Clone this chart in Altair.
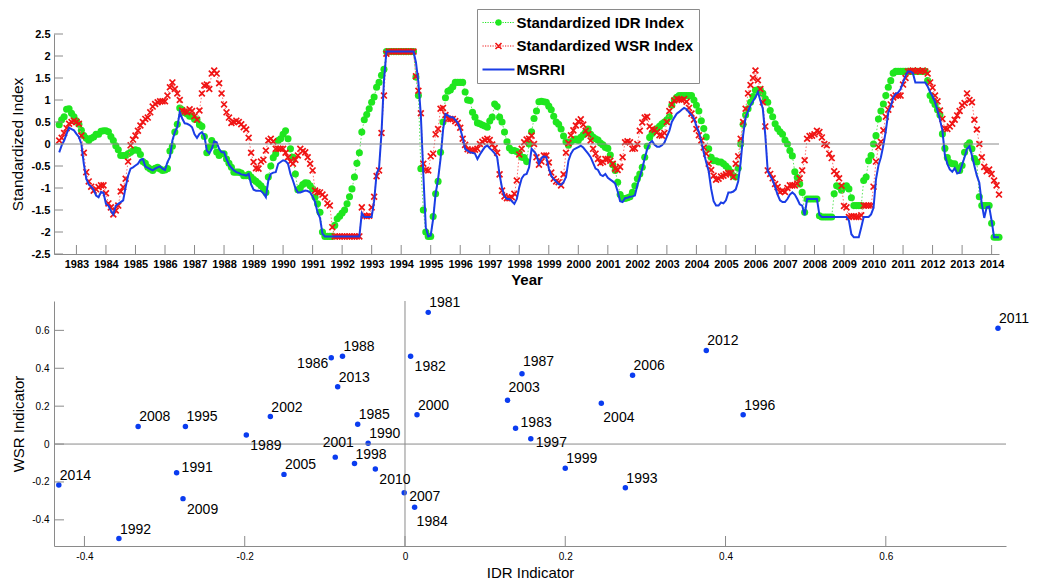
import math
import altair as alt
import pandas as pd

# ---------------- data: top panel (monthly readings, mid-1982 .. early 2014) ----------------
START_YEAR = 1982 + 5 / 12
STEP = 1 / 12

idr_index = [
    0.44, 0.55, 0.62, 0.79, 0.80, 0.70, 0.62, 0.53, 0.45, 0.31, 0.19, 0.13,
    0.08, 0.13, 0.16, 0.22, 0.22, 0.29, 0.30, 0.30, 0.28, 0.17, 0.08, -0.04,
    -0.13, -0.26, -0.26, -0.26, -0.22, -0.19, -0.15, -0.13, -0.15, -0.24, -0.40, -0.44,
    -0.53, -0.57, -0.60, -0.55, -0.53, -0.57, -0.60, -0.59, -0.56, -0.16, -0.05, 0.27,
    0.45, 0.82, 0.78, 0.71, 0.68, 0.63, 0.63, 0.56, 0.55, 0.44, 0.40, 0.17,
    -0.20, -0.07, 0.08, -0.03, -0.18, -0.26, -0.22, -0.22, -0.34, -0.44, -0.53, -0.64,
    -0.64, -0.64, -0.66, -0.72, -0.72, -0.69, -0.75, -0.81, -0.85, -0.90, -0.95, -1.02,
    -1.10, -0.75, -0.50, -0.31, -0.22, 0.08, 0.12, 0.22, 0.30, 0.12, -0.11, -0.30,
    -0.68, -1.04, -1.00, -0.92, -0.88, -0.89, -0.95, -1.02, -1.21, -1.36, -1.55, -2.00,
    -2.10, -2.10, -2.10, -2.10, -1.85, -1.70, -1.64, -1.57, -1.50, -1.36, -1.20, -1.02,
    -0.75, -0.44, -0.20, 0.27, 0.55, 0.67, 0.80, 0.95, 1.07, 1.29, 1.40, 1.56,
    1.70, 2.10, 2.10, 2.10, 2.10, 2.10, 2.10, 2.10, 2.10, 2.10, 2.10, 2.10,
    2.10, 1.52, 1.10, -0.56, -1.50, -2.00, -2.10, -2.10, -1.65, -1.13, -0.85, -0.19,
    0.50, 1.05, 1.20, 1.23, 1.30, 1.40, 1.40, 1.40, 1.40, 1.18, 1.00, 0.99,
    0.72, 0.61, 0.48, 0.46, 0.43, 0.41, 0.38, 0.52, 0.61, 0.91, 0.85, 0.61,
    0.50, 0.27, 0.05, -0.09, -0.15, -0.15, -0.17, -0.21, -0.30, -0.31, -0.40, 0.00,
    0.28, 0.58, 0.75, 0.96, 0.97, 0.96, 0.95, 0.86, 0.78, 0.63, 0.50, 0.45,
    0.34, 0.18, 0.05, -0.03, 0.05, 0.09, 0.11, 0.08, 0.15, 0.21, 0.28, 0.34,
    0.22, 0.16, 0.12, 0.09, 0.02, -0.02, -0.08, -0.10, -0.25, -0.47, -0.60, -0.87,
    -1.15, -1.24, -1.24, -1.22, -1.20, -1.10, -0.95, -0.79, -0.68, -0.53, -0.30, -0.05,
    0.15, 0.24, 0.30, 0.35, 0.40, 0.46, 0.50, 0.55, 0.62, 0.88, 1.00, 1.06,
    1.10, 1.10, 1.10, 1.10, 1.10, 1.10, 1.00, 0.88, 0.75, 0.53, 0.35, 0.16,
    -0.11, -0.30, -0.38, -0.38, -0.41, -0.41, -0.45, -0.50, -0.56, -0.64, -0.72, -0.75,
    -0.55, 0.00, 0.45, 0.66, 0.80, 0.95, 1.08, 1.22, 1.23, 1.23, 1.15, 1.03,
    0.95, 0.76, 0.62, 0.46, 0.35, 0.28, 0.22, 0.09, 0.00, -0.15, -0.27, -0.63,
    -0.76, -0.91, -1.10, -1.55, -1.25, -1.25, -1.25, -1.25, -1.25, -1.63, -1.66, -1.66,
    -1.66, -1.66, -1.66, -1.13, -0.95, -0.97, -1.05, -0.98, -0.95, -1.02, -1.22, -1.40,
    -1.40, -1.40, -1.40, -0.83, -0.75, -0.38, -0.26, 0.00, 0.19, 0.57, 0.75, 0.91,
    1.10, 1.29, 1.44, 1.61, 1.65, 1.65, 1.65, 1.65, 1.65, 1.65, 1.65, 1.65,
    1.65, 1.65, 1.65, 1.65, 1.65, 1.44, 1.10, 0.99, 0.90, 0.78, 0.66, 0.23,
    -0.10, -0.31, -0.42, -0.45, -0.45, -0.54, -0.60, -0.49, -0.19, -0.03, 0.03, -0.11,
    -0.33, -0.41, -1.20, -1.40, -1.40, -1.40, -1.40, -1.80, -2.12, -2.12, -2.12,
]

wsr_index = [
    0.08, 0.14, 0.25, 0.36, 0.46, 0.50, 0.53, 0.50, 0.46, 0.19, -0.20, -0.64,
    -0.85, -0.97, -1.06, -1.03, -0.98, -0.94, -0.94, -1.12, -1.35, -1.44, -1.60, -1.51,
    -1.40, -1.08, -0.98, -0.79, -0.40, -0.03, 0.10, 0.19, 0.30, 0.42, 0.50, 0.57,
    0.60, 0.72, 0.85, 0.91, 0.95, 0.97, 0.97, 0.97, 1.10, 1.29, 1.40, 1.25,
    1.15, 1.00, 0.76, 0.74, 0.72, 0.79, 0.75, 0.63, 0.55, 0.76, 1.15, 1.33,
    1.35, 1.25, 1.60, 1.67, 1.60, 1.38, 1.15, 0.90, 0.72, 0.60, 0.48, 0.50,
    0.53, 0.50, 0.45, 0.38, 0.33, 0.14, -0.20, -0.41, -0.55, -0.56, -0.40, -0.36,
    -0.15, 0.08, 0.12, 0.06, -0.11, -0.11, -0.11, -0.11, -0.20, -0.30, -0.40, -0.45,
    -0.36, -0.26, -0.11, -0.16, -0.19, -0.30, -0.45, -0.60, -1.06, -1.09, -1.10, -1.15,
    -1.21, -1.35, -1.40, -1.89, -2.10, -2.10, -2.10, -2.10, -2.10, -2.10, -2.10, -2.10,
    -2.10, -2.10, -2.10, -1.44, -1.63, -1.64, -1.63, -1.44, -1.20, -0.73, -0.60, 0.25,
    1.10, 2.05, 2.10, 2.10, 2.10, 2.10, 2.10, 2.10, 2.10, 2.10, 2.10, 2.10,
    2.10, 1.54, 1.21, 0.70, -0.45, -0.59, -0.60, -0.28, -0.22, 0.22, 0.34, 0.80,
    0.82, 0.66, 0.57, 0.57, 0.57, 0.52, 0.48, 0.37, 0.12, -0.02, -0.12, -0.15,
    -0.15, -0.13, -0.11, 0.00, 0.05, 0.09, 0.12, 0.09, -0.01, -0.09, -0.20, -0.69,
    -1.06, -1.19, -1.23, -1.23, -1.21, -1.13, -0.83, -0.24, -0.11, 0.04, 0.10, 0.12,
    0.19, 0.00, -0.30, -0.47, -0.40, -0.26, -0.26, -0.42, -0.65, -0.79, -0.85, -0.87,
    -0.94, -0.69, -0.20, 0.02, 0.20, 0.31, 0.42, 0.51, 0.56, 0.44, 0.30, 0.22,
    0.08, -0.11, -0.22, -0.34, -0.43, -0.41, -0.34, -0.34, -0.38, -0.45, -0.56, -0.59,
    -0.52, -0.30, 0.04, 0.06, 0.04, -0.11, -0.10, 0.00, 0.30, 0.49, 0.60, 0.62,
    0.40, 0.34, 0.32, 0.27, 0.20, 0.19, 0.25, 0.50, 0.75, 0.90, 0.99, 1.03,
    1.01, 1.00, 1.02, 0.96, 0.82, 0.69, 0.55, 0.34, 0.20, 0.08, -0.08, -0.22,
    -0.45, -0.59, -0.72, -0.81, -0.79, -0.74, -0.72, -0.69, -0.66, -0.66, -0.75, -0.45,
    -0.28, 0.12, 0.50, 0.80, 1.15, 1.34, 1.50, 1.67, 1.45, 1.25, 0.95, 0.40,
    -0.60, -0.68, -0.78, -0.91, -0.98, -1.09, -1.06, -1.09, -1.00, -0.94, -0.94, -0.94,
    -0.90, -0.78, -0.60, -0.37, 0.12, 0.18, 0.19, 0.22, 0.30, 0.27, 0.15, 0.00,
    -0.03, -0.22, -0.32, -0.62, -0.68, -0.78, -0.95, -1.41, -1.44, -1.66, -1.64, -1.64,
    -1.66, -1.66, -1.62, -1.40, -1.40, -1.40, -1.40, -0.97, -0.40, -0.07, 0.05, 0.31,
    0.62, 0.78, 0.90, 1.06, 1.10, 1.10, 1.10, 1.35, 1.50, 1.65, 1.66, 1.67,
    1.65, 1.67, 1.65, 1.67, 1.65, 1.60, 1.40, 1.28, 1.10, 0.97, 0.76, 0.57,
    0.35, 0.34, 0.40, 0.46, 0.55, 0.65, 0.75, 0.88, 0.93, 1.15, 1.00, 0.95,
    0.55, 0.33, 0.00, -0.30, -0.52, -0.62, -0.58, -0.68, -0.83, -0.94, -1.15,
]

msrri = [
    -0.19, -0.03, 0.08, 0.23, 0.37, 0.34, 0.31, 0.23, 0.16, 0.00, -0.45, -0.79,
    -0.92, -0.97, -1.04, -1.17, -1.21, -1.09, -1.11, -1.36, -1.40, -1.51, -1.60, -1.40,
    -1.36, -1.32, -1.28, -0.98, -0.72, -0.56, -0.53, -0.49, -0.45, -0.36, -0.34, -0.51,
    -0.54, -0.57, -0.60, -0.56, -0.53, -0.51, -0.56, -0.59, -0.41, -0.30, 0.08, 0.27,
    0.38, 0.72, 0.58, 0.47, 0.46, 0.43, 0.38, 0.22, 0.14, 0.23, 0.27, 0.19,
    -0.15, -0.21, -0.11, 0.06, 0.04, -0.11, -0.19, -0.19, -0.34, -0.47, -0.54, -0.60,
    -0.64, -0.66, -0.69, -0.70, -0.72, -0.68, -0.92, -1.04, -1.06, -1.06, -1.07, -1.12,
    -1.21, -0.83, -0.68, -0.65, -0.64, -0.45, -0.41, -0.37, -0.39, -0.45, -0.68, -0.83,
    -1.00, -1.10, -1.10, -1.08, -1.06, -1.07, -1.10, -1.19, -1.32, -1.55, -1.68, -2.04,
    -2.10, -2.10, -2.10, -2.10, -2.10, -2.10, -2.10, -2.10, -2.10, -2.10, -2.10, -2.10,
    -2.10, -2.10, -2.10, -1.57, -1.66, -1.66, -1.66, -1.66, -1.30, -0.68, -0.55, 0.25,
    1.44, 2.10, 2.10, 2.10, 2.10, 2.10, 2.10, 2.10, 2.10, 2.10, 2.10, 2.10,
    2.10, 1.86, 1.40, 0.65, -0.68, -1.89, -2.10, -2.08, -1.70, -1.13, -0.80, -0.34,
    0.31, 0.68, 0.65, 0.61, 0.61, 0.55, 0.48, 0.34, 0.15, -0.11, -0.15, -0.19,
    -0.20, -0.22, -0.34, -0.24, -0.15, -0.07, -0.03, -0.10, -0.15, -0.21, -0.30, -0.70,
    -1.00, -1.19, -1.25, -1.25, -1.30, -1.36, -1.25, -0.98, -0.78, -0.70, -0.68, -0.53,
    -0.11, -0.17, -0.25, -0.45, -0.32, -0.28, -0.30, -0.55, -0.72, -0.80, -0.85, -0.91,
    -0.93, -0.87, -0.75, -0.38, -0.22, -0.13, -0.10, -0.07, -0.04, -0.08, -0.15, -0.22,
    -0.30, -0.43, -0.56, -0.59, -0.70, -0.73, -0.68, -0.77, -0.81, -0.85, -0.90, -1.08,
    -1.30, -1.32, -1.23, -1.22, -1.20, -1.19, -1.17, -0.94, -0.75, -0.56, -0.32, -0.12,
    0.02, 0.07, -0.02, -0.06, -0.06, -0.03, 0.03, 0.17, 0.30, 0.50, 0.60, 0.69,
    0.73, 0.78, 0.82, 0.79, 0.72, 0.66, 0.58, 0.41, 0.27, 0.05, -0.20, -0.42,
    -0.62, -1.02, -1.30, -1.40, -1.40, -1.33, -1.35, -1.28, -1.10, -1.10, -1.08, -1.03,
    -0.85, -0.41, 0.20, 0.61, 0.74, 0.88, 0.97, 1.06, 1.18, 0.99, 0.80, 0.20,
    -0.62, -0.72, -0.82, -0.98, -1.15, -1.28, -1.32, -1.32, -1.25, -1.15, -1.10, -1.15,
    -1.25, -1.37, -1.40, -1.62, -1.25, -1.25, -1.25, -1.25, -1.25, -1.61, -1.66, -1.66,
    -1.66, -1.66, -1.66, -1.66, -1.66, -1.66, -1.66, -1.66, -1.66, -1.74, -2.05, -2.12,
    -2.12, -2.12, -1.90, -1.66, -1.66, -1.66, -1.60, -1.45, -0.80, -0.49, -0.30, -0.03,
    0.30, 0.72, 0.85, 1.06, 1.14, 1.17, 1.25, 1.40, 1.55, 1.65, 1.65, 1.61,
    1.40, 1.40, 1.40, 1.40, 1.40, 1.31, 1.18, 1.08, 0.95, 0.76, 0.55, 0.31,
    -0.25, -0.45, -0.58, -0.63, -0.55, -0.67, -0.65, -0.47, -0.30, -0.11, -0.05, -0.26,
    -0.50, -0.72, -0.88, -1.36, -1.68, -1.44, -1.42, -1.74, -2.12, -2.12, -2.12,
]

series_names = ["Standardized IDR Index", "Standardized WSR Index", "MSRRI"]
year_ticks = list(range(1983, 2015))
top_y_ticks = [-2.5, -2, -1.5, -1, -0.5, 0, 0.5, 1, 1.5, 2, 2.5]

# ---------------- data: bottom panel (annual indicators) ----------------
scatter_years = [1981, 1982, 1983, 1984, 1985, 1986, 1987, 1988, 1989, 1990,
                 1991, 1992, 1993, 1995, 1996, 1997, 1998, 1999, 2000, 2001,
                 2002, 2003, 2004, 2005, 2006, 2007, 2008, 2009, 2010, 2011,
                 2012, 2013, 2014]
idr_indicator = [0.029, 0.007, 0.138, 0.012, -0.059, -0.092, 0.146, -0.078, -0.198, -0.046,
                 -0.285, -0.357, 0.275, -0.274, 0.422, 0.157, -0.063, 0.200, 0.015, -0.087,
                 -0.168, 0.128, 0.245, -0.151, 0.284, -0.001, -0.333, -0.277, -0.037, 0.740,
                 0.376, -0.084, -0.432]
wsr_indicator = [0.695, 0.463, 0.083, -0.333, 0.104, 0.456, 0.371, 0.463, 0.048, 0.004,
                 -0.151, -0.499, -0.230, 0.093, 0.155, 0.028, -0.103, -0.128, 0.155, -0.069,
                 0.145, 0.231, 0.215, -0.160, 0.363, -0.257, 0.093, -0.288, -0.132, 0.611,
                 0.494, 0.303, -0.216]
bottom_ticks = [-0.4, -0.2, 0, 0.2, 0.4, 0.6]

assert len(idr_index) == len(wsr_index) == len(msrri)

# ---------------- style ----------------
FONT = "Liberation Sans"
GRAY = "#8a8a8a"
GREEN = "#1fe61f"
GREEN_LINE = "#5ee65e"
RED = "#f01414"
RED_LINE = "#ff6a6a"
BLUE = "#1a3de6"
BLUE_PT = "#0a3cf0"
X_MARK = "M-1,-1L1,1M-1,1L1,-1"

# label placement (align, dx, dy) for the scatter annotations
POS_STYLE = {
    "ur": ("left", 1, -9),
    "ur2": ("left", 1, -12),
    "r_up": ("left", 5, -5),
    "r_dn": ("left", 5, 4),
    "br": ("left", 4, 11),
    "b": ("left", 2, 15),
    "l": ("right", -3, 6),
    "u": ("center", 3, -14),
}
LABEL_POS = {1987: "ur2", 2003: "ur2", 1991: "r_up", 1983: "r_up", 1997: "r_dn",
             2007: "r_dn", 2009: "br", 1989: "br", 1982: "br", 2010: "br",
             1984: "b", 2004: "b", 1986: "l", 2001: "u"}


# legend glyphs (filled paths; 1 unit = 8 px, spanning x in [-1, 3])
def _f(v):
    return f"{v:.4f}".rstrip("0").rstrip(".")


def rect(x0, y0, x1, y1):
    return f"M{_f(x0)},{_f(y0)}H{_f(x1)}V{_f(y1)}H{_f(x0)}Z"


def poly(pts):
    return "M" + "L".join(f"{_f(x)},{_f(y)}" for x, y in pts) + "Z"


def dotted(u0=-1.0, u1=3.0, period=0.3125, w=0.15, h=0.0625):
    parts, x = [], u0
    while x + w <= u1 + 1e-9:
        parts.append(rect(x, -h, x + w, h))
        x += period
    return "".join(parts)


def circle(cx, r, n=20):
    return poly([(cx + r * math.cos(2 * math.pi * k / n), r * math.sin(2 * math.pi * k / n)) for k in range(n)])


def xcross(cx, a=0.375, t=0.1):
    d = t / math.sqrt(2)
    r1 = [(cx - a + d, -a - d), (cx + a + d, a - d), (cx + a - d, a + d), (cx - a - d, -a + d)]
    r2 = [(cx - a + d, a + d), (cx - a - d, a - d), (cx + a - d, -a - d), (cx + a + d, -a + d)]
    return poly(r1) + poly(r2)


LEG_PATHS = [dotted() + circle(1, 0.41), dotted() + xcross(1), rect(-1, -0.125, 3, 0.125)]

# ---------------- top panel ----------------
W1, H1 = 945, 220
times = [START_YEAR + i * STEP for i in range(len(msrri))]
top_df = pd.DataFrame({"t": times, "idr": idr_index, "wsr": wsr_index, "msrri": msrri})

xs = alt.Scale(domain=[1982.24, 2014.25], nice=False, zero=False)
ys = alt.Scale(domain=[-2.5, 2.5], nice=False, zero=False)

x_axis = alt.Axis(values=year_ticks, labelExpr="'' + datum.value", ticks=False, grid=False,
                  domainColor=GRAY, labelFont=FONT, labelFontSize=11, labelFontWeight="bold",
                  labelColor="black", labelPadding=4, labelFlush=False, labelOverlap=False,
                  titleFont=FONT, titleFontSize=15, titleFontWeight="bold", titleColor="black",
                  titlePadding=3)
y_axis = alt.Axis(values=top_y_ticks, labelExpr="'' + datum.value", ticks=False, grid=False,
                  domainColor=GRAY, labelFont=FONT, labelFontSize=11, labelFontWeight="bold",
                  labelColor="black", labelPadding=4, labelFlush=False, labelOverlap=False,
                  titleFont=FONT, titleFontSize=15.5, titleFontWeight="normal", titleColor="black",
                  titlePadding=6)


def X1(field="t"):
    return alt.X(f"{field}:Q", scale=xs, axis=x_axis, title="Year")


def Y1(field):
    return alt.Y(f"{field}:Q", scale=ys, axis=y_axis, title="Standardized Index")


base = alt.Chart(top_df)
zero_top = alt.Chart(pd.DataFrame({"v": [0]})).mark_rule(color=GRAY, strokeWidth=1).encode(y=Y1("v"))
xt_top = alt.Chart(pd.DataFrame({"t": year_ticks})).mark_rule(color=GRAY, strokeWidth=1).encode(
    x=X1("t"), y=alt.value(H1), y2=alt.value(H1 - 9))
yt_top = alt.Chart(pd.DataFrame({"v": top_y_ticks})).mark_rule(color=GRAY, strokeWidth=1).encode(
    y=Y1("v"), x=alt.value(0), x2=alt.value(9))

green_line = base.mark_line(color=GREEN_LINE, strokeWidth=1, strokeDash=[1.5, 2]).encode(x=X1(), y=Y1("idr"))
green_pts = base.mark_point(shape="circle", filled=True, size=50, color=GREEN, opacity=1).encode(x=X1(), y=Y1("idr"))
red_line = base.mark_line(color=RED_LINE, strokeWidth=1, strokeDash=[1.5, 2]).encode(x=X1(), y=Y1("wsr"))
red_pts = base.mark_point(shape=X_MARK, filled=False, size=34, color=RED, strokeWidth=1.7, opacity=1).encode(
    x=X1(), y=Y1("wsr"))
blue_line = base.mark_line(color=BLUE, strokeWidth=2).encode(x=X1(), y=Y1("msrri"))

LEG = alt.Legend(orient="none", legendX=423, legendY=-25, fillColor="white", strokeColor=GRAY,
                 padding=5.5, symbolSize=256, symbolStrokeWidth=0, symbolOpacity=1,
                 labelFont=FONT, labelFontSize=15, labelFontWeight="bold", labelColor="black",
                 labelOffset=18, rowPadding=7.5, labelLimit=400)
legend_layer = alt.Chart(pd.DataFrame({"series": series_names})).transform_filter("false").mark_point(
    filled=True, opacity=1).encode(
    color=alt.Color("series:N", title=None, scale=alt.Scale(domain=series_names, range=[GREEN, RED, BLUE]),
                    legend=LEG),
    shape=alt.Shape("series:N", title=None, scale=alt.Scale(domain=series_names, range=LEG_PATHS),
                    legend=LEG),
)

top = alt.layer(green_line, green_pts, red_line, red_pts, blue_line, zero_top, xt_top, yt_top,
                legend_layer).properties(width=W1, height=H1)

# ---------------- bottom panel ----------------
W2, H2 = 952, 245
sc_df = pd.DataFrame({"idr": idr_indicator, "wsr": wsr_indicator,
                      "label": [str(y) for y in scatter_years],
                      "pos": [LABEL_POS.get(y, "ur") for y in scatter_years]})

bx = alt.Scale(domain=[-0.438, 0.75], nice=False, zero=False)
by = alt.Scale(domain=[-0.538, 0.755], nice=False, zero=False)

bx_axis = alt.Axis(values=bottom_ticks, labelExpr="'' + datum.value", ticks=False, grid=False,
                   domainColor=GRAY, labelFont=FONT, labelFontSize=10, labelColor="black",
                   labelPadding=5, labelFlush=False, titleFont=FONT, titleFontSize=15,
                   titleFontWeight="normal", titleColor="black", titlePadding=4)
by_axis = alt.Axis(values=bottom_ticks, labelExpr="'' + datum.value", ticks=False, grid=False,
                   domainColor=GRAY, labelFont=FONT, labelFontSize=10, labelColor="black",
                   labelPadding=5, labelFlush=False, titleFont=FONT, titleFontSize=15,
                   titleFontWeight="normal", titleColor="black", titlePadding=5)


def X2(field="idr"):
    return alt.X(f"{field}:Q", scale=bx, axis=bx_axis, title="IDR Indicator")


def Y2(field="wsr"):
    return alt.Y(f"{field}:Q", scale=by, axis=by_axis, title="WSR Indicator")


sc_base = alt.Chart(sc_df)
pts = sc_base.mark_circle(size=30, color=BLUE_PT, opacity=1).encode(x=X2(), y=Y2())

zero_h = alt.Chart(pd.DataFrame({"v": [0]})).mark_rule(color=GRAY, strokeWidth=1).encode(y=Y2("v"))
zero_v = alt.Chart(pd.DataFrame({"idr": [0]})).mark_rule(color=GRAY, strokeWidth=1).encode(x=X2("idr"))
xt_bot = alt.Chart(pd.DataFrame({"idr": bottom_ticks})).mark_rule(color=GRAY, strokeWidth=1).encode(
    x=X2("idr"), y=alt.value(H2), y2=alt.value(H2 - 10))
yt_bot = alt.Chart(pd.DataFrame({"v": bottom_ticks})).mark_rule(color=GRAY, strokeWidth=1).encode(
    y=Y2("v"), x=alt.value(0), x2=alt.value(10))

label_layers = []
for code, (align, dx, dy) in POS_STYLE.items():
    label_layers.append(
        sc_base.transform_filter(alt.datum.pos == code).mark_text(
            align=align, baseline="middle", dx=dx, dy=dy, font=FONT, fontSize=14, color="black"
        ).encode(x=X2(), y=Y2(), text="label:N")
    )

bottom = alt.layer(pts, zero_h, zero_v, xt_bot, yt_bot, *label_layers).properties(width=W2, height=H2)

chart = alt.vconcat(top, bottom, spacing=9).properties(
    padding={"left": 2, "top": 0, "right": 2, "bottom": 0},
    background="white",
).configure_view(strokeWidth=0)

chart.save("out.html", embed_options={"renderer": "svg", "actions": False})
